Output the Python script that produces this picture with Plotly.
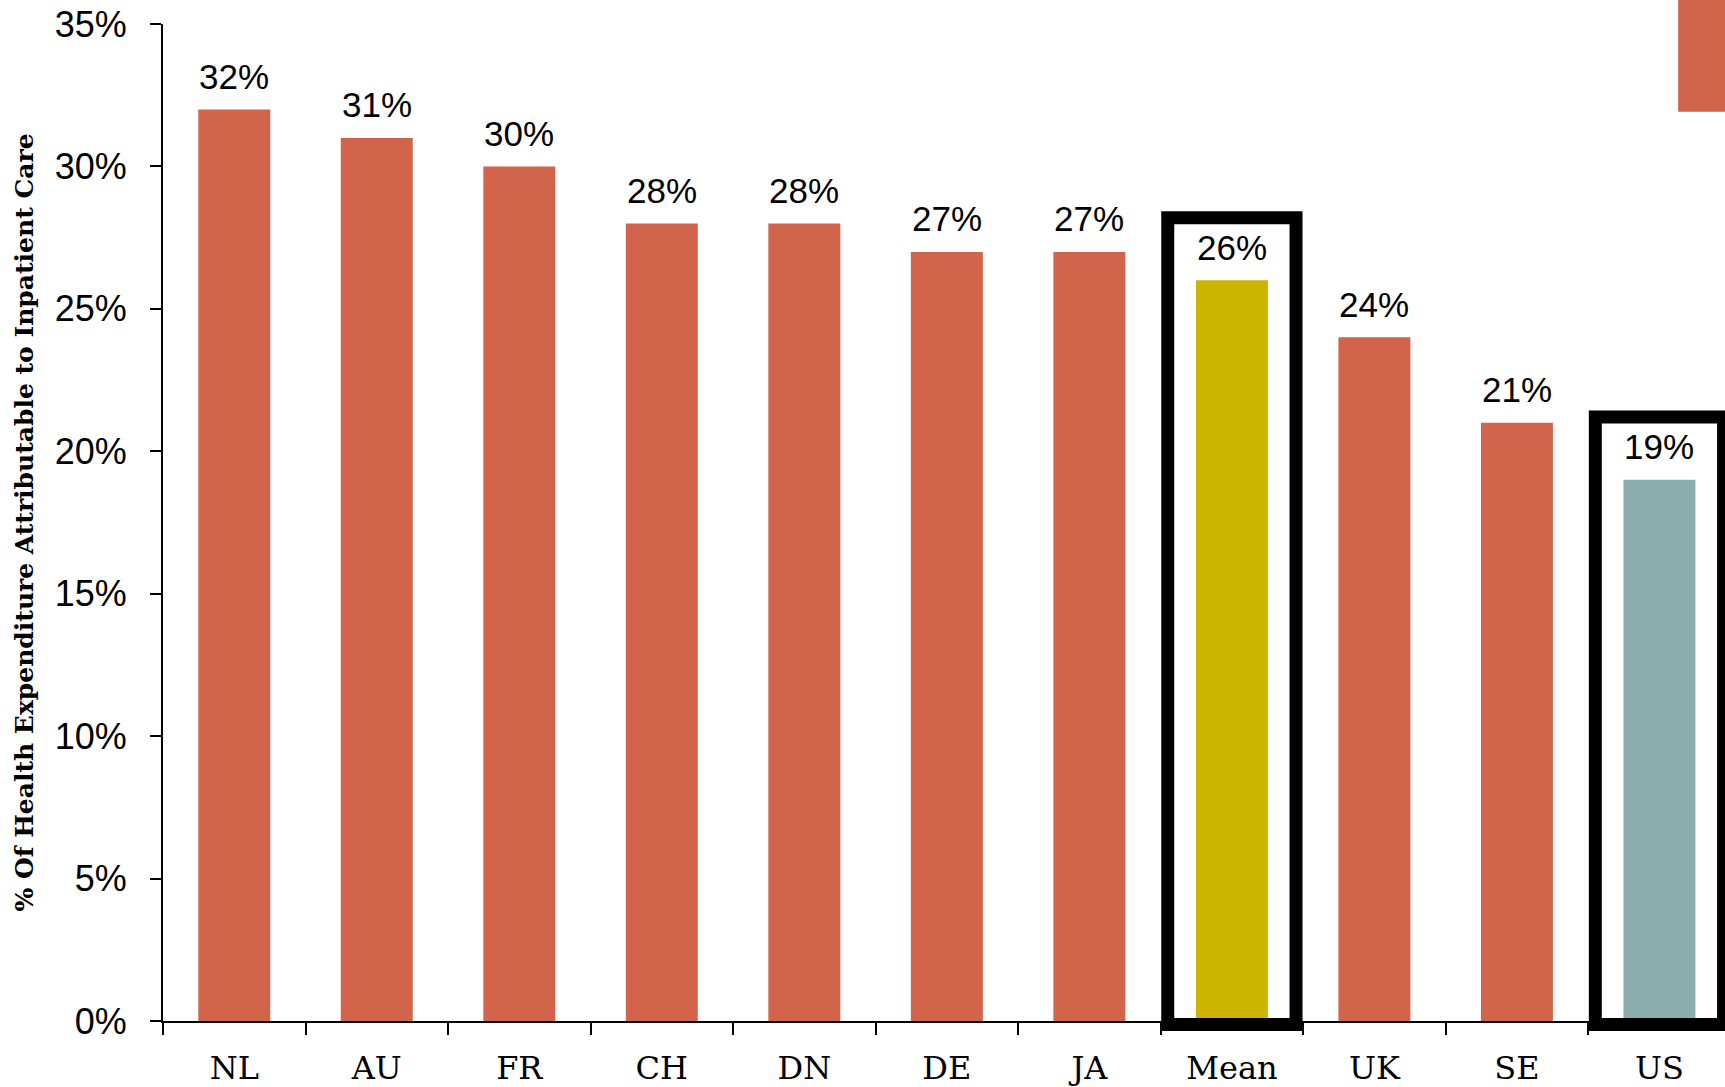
import plotly.graph_objects as go

# data
countries = ['NL', 'AU', 'FR', 'CH', 'DN', 'DE', 'JA', 'Mean', 'UK', 'SE', 'US']
inpatient_share = [32, 31, 30, 28, 28, 27, 27, 26, 24, 21, 19]
highlighted = ['Mean', 'US']
y_ticks = [0, 5, 10, 15, 20, 25, 30, 35]
y_tick_text = [f'{t}%' for t in y_ticks]
Y_MAX = 35

ORANGE = '#D1644B'
MEAN_COL = '#CDB400'
US_COL = '#8BADAD'

colors = []
for c in countries:
    if c == 'Mean':
        colors.append(MEAN_COL)
    elif c == 'US':
        colors.append(US_COL)
    else:
        colors.append(ORANGE)

fig = go.Figure()
fig.add_trace(go.Bar(x=countries, y=inpatient_share, marker_color=colors,
                     marker_line_width=0, width=0.505, hoverinfo='x+y'))

# value labels above the bars
for c, v in zip(countries, inpatient_share):
    fig.add_annotation(x=c, y=v, text=f'{v}%', showarrow=False, yshift=33,
                       font=dict(family='Liberation Sans', size=35, color='black'))

# black frames round Mean and US (yref paper so the bottom edge isn't clipped)
for c in highlighted:
    i = countries.index(c)
    v = inpatient_share[i]
    fig.add_shape(type='rect', xref='x', yref='paper', x0=i - 0.45, x1=i + 0.45,
                  y0=-0.12 / Y_MAX, y1=(v + 2.2) / Y_MAX,
                  line=dict(color='black', width=13), layer='above')

# stray orange block in the top right corner
fig.add_shape(type='rect', xref='paper', yref='paper', x0=0.97, x1=1.02,
              y0=0.912, y1=1.05, fillcolor=ORANGE, line_width=0, layer='below')

fig.add_annotation(text='% Of Health Expenditure Attributable to Inpatient Care',
                   xref='paper', yref='paper', x=0, y=0.5, xshift=-139,
                   xanchor='center', yanchor='middle', textangle=-90, showarrow=False,
                   font=dict(family='DejaVu Serif', size=25, color='black', weight='bold'))

fig.update_layout(
    width=1725, height=1087,
    margin=dict(l=163, r=0, t=24, b=66, autoexpand=False),
    plot_bgcolor='white', paper_bgcolor='white',
    showlegend=False,
    bargap=0.5,
)
fig.update_xaxes(range=[-0.5, 10.46], showline=True, linecolor='black', linewidth=2,
                 ticks='outside', tickson='boundaries', ticklen=12, tickwidth=2,
                 tickcolor='black', ticklabelstandoff=18, automargin=False,
                 tickfont=dict(family='DejaVu Serif', size=32, color='black'),
                 showgrid=False, zeroline=False)
fig.update_yaxes(range=[0, Y_MAX], tickvals=y_ticks, ticktext=y_tick_text, showline=True,
                 linecolor='black', linewidth=2, ticks='outside', ticklen=11,
                 tickwidth=2, tickcolor='black', ticklabelstandoff=16, automargin=False,
                 tickfont=dict(family='Liberation Sans', size=36, color='black'),
                 showgrid=False, zeroline=False)

# page body has a default 8px margin; drop it so the chart sits at the corner
fig.write_html('out.html', config={'displayModeBar': False},
               post_script="document.body.style.margin='0';")
